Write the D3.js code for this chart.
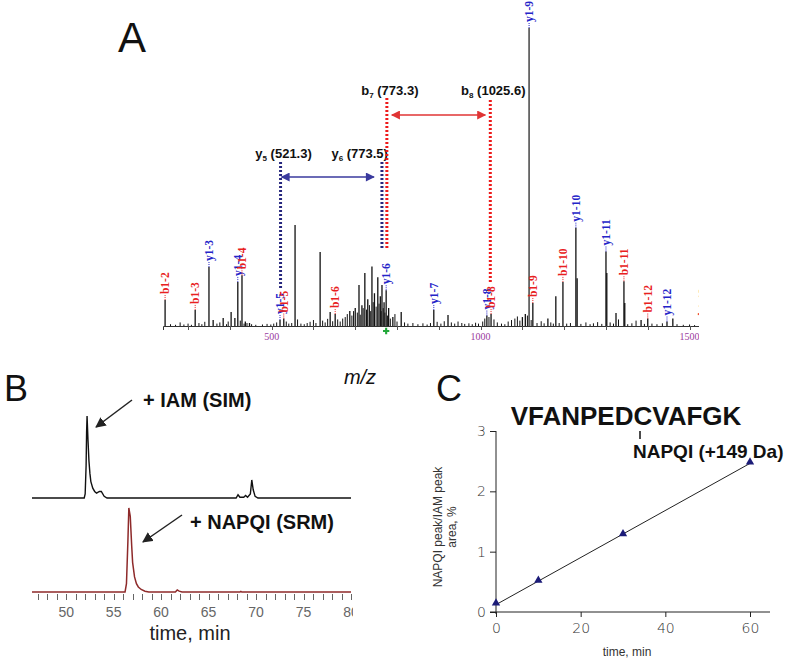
<!DOCTYPE html>
<html lang="en">
  <head>
    <meta charset="UTF-8" />
    <title>Peptide adduct figure</title>
    <script src="https://cdn.jsdelivr.net/npm/d3@7"></script>
    <style>
      body { margin: 0; background: #ffffff; }
      svg { display: block; font-family: "Liberation Sans", Arial, sans-serif; }
    </style>
  </head>
  <body>
    <div id="figure"></div>
    <script>
      // ---------- Panel A: MS/MS spectrum ----------
      const peakMz = [245, 317, 350, 360, 384, 403, 412, 419, 429, 437, 447, 520, 529, 556, 616, 640, 652,
        687, 700, 709, 716, 723, 730, 740, 746, 754, 760, 764, 769, 774, 780, 790, 810, 888, 922,
        1015, 1025, 1100, 1107, 1116, 1125, 1161, 1180, 1197, 1228, 1231, 1300, 1302, 1324, 1343, 1345,
        1384, 1400, 1446, 1460];
      const peakInt = [8.7, 5.4, 19.8, 2, 2.7, 4.7, 2.7, 14.8, 17, 1.5, 1, 2, 2.5, 33.9, 24.8, 4.7, 4,
        5, 6, 13.8, 7, 17.8, 9, 20, 11, 16.4, 10, 13.8, 8, 12, 6, 3, 4.7, 5.4, 3.7,
        3.5, 4, 3, 4, 100, 7.7, 2.5, 10, 14.8, 33, 16, 25, 17.8, 4.4, 15, 7.7,
        2, 2.5, 1.5, 2.5];
      const noiseMz = [258, 270, 281, 290, 300, 308, 326, 333, 340, 369, 376, 392, 396, 425, 434, 441, 452, 462,
        478, 489, 498, 505, 512, 535, 541, 548, 562, 570, 578, 585, 592, 600, 606, 622, 628, 634, 646, 658,
        664, 670, 676, 681, 692, 696, 705, 712, 719, 727, 734, 737, 743, 750, 757, 762, 767, 771, 777, 784,
        795, 800, 818, 826, 838, 850, 862, 872, 880, 896, 905, 913, 930, 938, 946, 955, 962, 972, 980, 988,
        995, 1005, 1010, 1020, 1032, 1040, 1050, 1058, 1066, 1074, 1082, 1088, 1094, 1112, 1121, 1135, 1145,
        1152, 1168, 1174, 1188, 1206, 1215, 1240, 1252, 1262, 1270, 1280, 1290, 1310, 1318, 1330, 1352, 1362,
        1372, 1392, 1410, 1422, 1435, 1470, 1485, 1500, 1512];
      const noiseInt = [0.6, 0.4, 1.2, 0.5, 0.8, 0.4, 1.0, 0.6, 1.4, 0.8, 1.2, 0.6, 1.5, 1.8, 0.8, 1.0, 0.6, 0.4,
        0.5, 0.7, 0.5, 0.8, 1.2, 1.5, 0.8, 1.0, 2.2, 0.8, 0.6, 1.0, 1.4, 2.0, 1.0, 1.8, 1.2, 2.4, 1.6, 2.2,
        1.5, 2.5, 3.0, 4.0, 3.5, 5.0, 4.5, 3.8, 6, 5.5, 7, 5, 8, 6.5, 7.5, 5, 6, 4.5, 3.5, 2.5,
        4, 1.5, 1.2, 0.8, 1.0, 0.6, 0.9, 0.5, 1.0, 1.4, 0.8, 1.6, 1.2, 0.8, 1.5, 1.0, 0.7, 0.9, 0.6, 1.1,
        0.8, 1.5, 2.5, 3.0, 2.2, 1.2, 0.8, 0.6, 1.5, 2.0, 2.5, 3.2, 1.8, 3.5, 2.0, 1.0, 1.6,
        0.9, 1.2, 0.8, 1.0, 0.8, 1.0, 0.7, 1.2, 0.6, 0.9, 1.3, 0.7, 1.2, 0.8, 2.2, 0.6, 0.9,
        1.8, 0.7, 0.8, 0.6, 0.9, 0.6, 0.4, 0.5, 0.3];
      const ionNames = ["b1-2", "b1-3", "y1-3", "y1-4", "b1-4", "y1-5", "b1-5", "b1-6", "y1-6", "y1-7",
        "y1-8", "b1-8", "y1-9", "b1-9", "b1-10", "y1-10", "y1-11", "b1-11", "b1-12", "y1-12", "b1-13"];
      const ionMz = [245, 317, 350, 419, 429, 520, 529, 652, 774, 888, 1015, 1025, 1116, 1125, 1197, 1228,
        1300, 1343, 1400, 1446, 1532];
      const fragNames = ["y5", "y6", "b7", "b8"];
      const fragMz = [521.3, 773.5, 773.3, 1025.6];
      const mzTicks = [500, 1000, 1500];
      const precursorMz = 774;

      // ---------- Panel B: extracted ion chromatograms ----------
      const iamTime = [46.4, 51.9, 52.0, 52.1, 52.15, 52.2, 52.3, 52.4, 52.5, 52.6, 52.8, 53.0, 53.2, 53.5,
        53.7, 54.0, 54.3, 67.9, 68.1, 68.3, 68.7, 68.9, 69.1, 69.4, 69.55, 69.7, 69.9, 70.2, 80];
      const iamInt = [0, 0, 5, 40, 80, 100, 70, 45, 30, 20, 12, 8, 6, 8, 8, 2, 0, 0, 4, 1, 1, 3, 1, 5, 22, 10, 2, 0, 0];
      const napqiTime = [46.4, 56.2, 56.35, 56.5, 56.6, 56.75, 56.9, 57.0, 57.2, 57.4, 57.6, 57.9, 58.3, 58.7,
        61.5, 61.7, 61.9, 62.2, 68.3, 68.4, 68.5, 80];
      const napqiInt = [0, 0, 10, 60, 100, 90, 55, 35, 18, 10, 6, 3, 1, 0, 0, 2.5, 1, 0, 0, 0.8, 0, 0];
      const timeLabels = [50, 55, 60, 65, 70, 75, 80];

      // ---------- Panel C: time course ----------
      const courseTime = [0, 10, 30, 60];
      const courseRatio = [0.13, 0.51, 1.28, 2.47];
      const courseXTicks = [0, 20, 40, 60];
      const courseYTicks = [0, 1, 2, 3];

      const svg = d3.select("#figure").append("svg").attr("width", 800).attr("height", 665);
      svg.append("rect").attr("width", 800).attr("height", 665).attr("fill", "#fff");
      const defs = svg.append("defs");

      // ================= Panel A =================
      const blue = "#2424c8", red = "#e82020";
      const xA = d3.scaleLinear().domain([240, 1525]).range([163, 700]);
      const yA = d3.scaleLinear().domain([0, 100]).range([326, 28]);

      defs.append("clipPath").attr("id", "clipA")
        .append("rect").attr("x", 150).attr("y", 0).attr("width", 549).attr("height", 360);
      const gA = svg.append("g").attr("clip-path", "url(#clipA)");

      svg.append("text").attr("x", 118).attr("y", 52).attr("font-size", 42).attr("fill", "#111").text("A");

      // baseline + ticks
      const axA = gA.append("g").attr("transform", "translate(0,326)")
        .call(d3.axisBottom(xA).tickValues(d3.range(300, 1501, 100)).tickSize(4).tickFormat(""));
      axA.select(".domain").attr("stroke", "#333").attr("stroke-width", 1);
      axA.selectAll(".tick line").attr("stroke", "#555").attr("shape-rendering", "crispEdges");
      gA.selectAll("text.mzlab").data(mzTicks).join("text").attr("class", "mzlab")
        .attr("x", (d) => xA(d)).attr("y", 340).attr("text-anchor", "middle")
        .attr("font-family", "Liberation Serif, serif").attr("font-size", 10).attr("fill", "#9a3aa0").text((d) => d);

      // noise + peaks
      gA.selectAll("line.noise").data(noiseMz).join("line").attr("class", "noise")
        .attr("x1", (d) => xA(d)).attr("x2", (d) => xA(d)).attr("y1", yA(0))
        .attr("y2", (d, i) => yA(noiseInt[i])).attr("stroke", "#111").attr("stroke-width", 1);
      gA.selectAll("line.peak").data(peakMz).join("line").attr("class", "peak")
        .attr("x1", (d) => xA(d)).attr("x2", (d) => xA(d)).attr("y1", yA(0))
        .attr("y2", (d, i) => yA(peakInt[i])).attr("stroke", (d, i) => (peakInt[i] > 90 ? "#444" : "#111"))
        .attr("stroke-width", (d, i) => (peakInt[i] > 90 ? 1.5 : 1.3));

      // precursor marker
      gA.append("path").attr("d", d3.symbol(d3.symbolCross, 22)())
        .attr("transform", `translate(${xA(precursorMz)},331)`).attr("fill", "#22a83a");

      // ion labels
      const ionInt = ionMz.map((m) => {
        const i = d3.minIndex(peakMz, (p) => Math.abs(p - m));
        return Math.abs(peakMz[i] - m) < 4 ? peakInt[i] : 1.5;
      });
      ionNames.forEach((name, i) => {
        const col = name[0] === "y" ? blue : red;
        const px = xA(ionMz[i]);
        const top = yA(ionInt[i]);
        const bot = top - 6;
        gA.append("line").attr("x1", px).attr("x2", px).attr("y1", top).attr("y2", bot)
          .attr("stroke", col).attr("stroke-width", 1).attr("stroke-dasharray", "1,1");
        gA.append("text").attr("transform", `translate(${px + 4},${bot}) rotate(-90)`)
          .attr("font-family", "Liberation Serif, serif").attr("font-weight", "bold")
          .attr("font-size", 11.5).attr("fill", col).text(name);
      });

      // fragment annotation lines
      const fragTop = { y5: 162, y6: 162, b7: 98, b8: 100 };
      const fragBot = { y5: 288, y6: 248, b7: 248, b8: 282 };
      const fragShift = { y5: 0, y6: -4, b7: 1, b8: -1 };
      fragNames.forEach((name, i) => {
        const col = name[0] === "y" ? "#27277e" : "#ee1a1a";
        const fx = xA(fragMz[i]) + fragShift[name];
        svg.append("line").attr("x1", fx).attr("x2", fx).attr("y1", fragTop[name]).attr("y2", fragBot[name])
          .attr("stroke", col).attr("stroke-width", 3).attr("stroke-dasharray", "2,2");
        const lab = svg.append("text").attr("font-weight", "bold").attr("font-size", 13).attr("fill", "#111")
          .attr("y", name[0] === "y" ? 158 : 95);
        if (name === "y6") lab.attr("x", fx + 6).attr("text-anchor", "end");
        else lab.attr("x", fx + 3).attr("text-anchor", "middle");
        lab.append("tspan").text(name[0]);
        lab.append("tspan").attr("font-size", 8).attr("dy", 3).text(name.slice(1));
        lab.append("tspan").attr("dy", -3).text(` (${fragMz[i].toFixed(1)})`);
      });

      // double arrows
      [["arrBlue", "#3a3a9e"], ["arrRed", "#e03434"]].forEach(([id, c]) => {
        defs.append("marker").attr("id", id).attr("viewBox", "0 0 10 10").attr("refX", 9).attr("refY", 5)
          .attr("markerWidth", 7).attr("markerHeight", 6).attr("orient", "auto-start-reverse")
          .append("path").attr("d", "M0,0L10,5L0,10z").attr("fill", c);
      });
      svg.append("line").attr("x1", xA(fragMz[0]) + 1).attr("x2", xA(fragMz[1]) - 12).attr("y1", 177).attr("y2", 177)
        .attr("stroke", "#3a3a9e").attr("stroke-width", 1.5)
        .attr("marker-start", "url(#arrBlue)").attr("marker-end", "url(#arrBlue)");
      svg.append("line").attr("x1", xA(fragMz[2]) + 6).attr("x2", xA(fragMz[3]) - 6).attr("y1", 115).attr("y2", 115)
        .attr("stroke", "#e03434").attr("stroke-width", 1.5)
        .attr("marker-start", "url(#arrRed)").attr("marker-end", "url(#arrRed)");

      svg.append("text").attr("x", 360).attr("y", 384).attr("text-anchor", "middle")
        .attr("font-size", 20).attr("font-style", "italic").attr("fill", "#111").text("m/z");

      // ================= Panel B =================
      svg.append("text").attr("x", 4).attr("y", 401).attr("font-size", 36).attr("fill", "#111").text("B");
      defs.append("clipPath").attr("id", "clipB").append("rect").attr("x", 0).attr("y", 380).attr("width", 353).attr("height", 285);
      const gB = svg.append("g").attr("clip-path", "url(#clipB)");
      const xB = d3.scaleLinear().domain([46.4, 80]).range([32, 351]);
      const yTop = d3.scaleLinear().domain([0, 100]).range([498, 416]);
      const yBot = d3.scaleLinear().domain([0, 100]).range([592, 508]);

      gB.append("path").datum(iamTime).attr("fill", "none").attr("stroke", "#111").attr("stroke-width", 1.4)
        .attr("d", d3.line().x((d) => xB(d)).y((d, i) => yTop(iamInt[i])));
      gB.append("path").datum(napqiTime).attr("fill", "none").attr("stroke", "#8e2a2a").attr("stroke-width", 1.5)
        .attr("d", d3.line().x((d) => xB(d)).y((d, i) => yBot(napqiInt[i])));

      // time ticks drawn as plain lines, one per minute
      gB.selectAll("line.tick").data(d3.range(47, 81, 1)).join("line").attr("class", "tick")
        .attr("x1", (d) => Math.round(xB(d)) + 0.5).attr("x2", (d) => Math.round(xB(d)) + 0.5)
        .attr("y1", 594).attr("y2", 600).attr("stroke", "#666").attr("stroke-width", 1);
      gB.selectAll("text.tlab").data(timeLabels).join("text").attr("class", "tlab")
        .attr("x", (d) => xB(d)).attr("y", 617).attr("text-anchor", "middle")
        .attr("font-size", 14).attr("fill", "#666").text((d) => d);

      svg.append("text").attr("x", 143).attr("y", 407).attr("font-size", 20).attr("font-weight", "bold")
        .attr("fill", "#111").text("+ IAM (SIM)");
      svg.append("text").attr("x", 190).attr("y", 529).attr("font-size", 20).attr("font-weight", "bold")
        .attr("fill", "#111").text("+ NAPQI (SRM)");
      defs.append("marker").attr("id", "arrBlack").attr("viewBox", "0 0 10 10").attr("refX", 9).attr("refY", 5)
        .attr("markerWidth", 7).attr("markerHeight", 7).attr("orient", "auto")
        .append("path").attr("d", "M0,0L10,5L0,10z").attr("fill", "#222");
      svg.append("line").attr("x1", 132).attr("y1", 400).attr("x2", 96).attr("y2", 427)
        .attr("stroke", "#222").attr("stroke-width", 1.5).attr("marker-end", "url(#arrBlack)");
      svg.append("line").attr("x1", 182).attr("y1", 515).attr("x2", 143).attr("y2", 542)
        .attr("stroke", "#222").attr("stroke-width", 1.5).attr("marker-end", "url(#arrBlack)");
      svg.append("text").attr("x", 190).attr("y", 640).attr("text-anchor", "middle")
        .attr("font-size", 20).attr("fill", "#222").text("time, min");

      // ================= Panel C =================
      svg.append("text").attr("x", 436).attr("y", 401).attr("font-size", 36).attr("fill", "#111").text("C");
      const xC = d3.scaleLinear().domain([0, 60]).range([496, 750]);
      const yC = d3.scaleLinear().domain([0, 3]).range([612, 431]);

      svg.append("line").attr("x1", 490).attr("x2", 770).attr("y1", yC(0)).attr("y2", yC(0)).attr("stroke", "#222");
      svg.append("line").attr("x1", xC(0)).attr("x2", xC(0)).attr("y1", yC(3)).attr("y2", yC(0) + 2).attr("stroke", "#222");
      const axCx = svg.append("g").attr("transform", `translate(0,${yC(0)})`)
        .call(d3.axisBottom(xC).tickValues(courseXTicks).tickSize(5).tickPadding(6).tickFormat(d3.format("d")));
      axCx.select(".domain").remove();
      const axCy = svg.append("g").attr("transform", `translate(${xC(0)},0)`)
        .call(d3.axisLeft(yC).tickValues(courseYTicks).tickSize(6).tickPadding(4).tickFormat(d3.format("d")));
      axCy.select(".domain").remove();
      [axCx, axCy].forEach((ax) => {
        ax.selectAll(".tick line").attr("stroke", "#222");
        ax.selectAll(".tick text").attr("font-size", 14).attr("fill", "#333")
          .attr("font-family", "DejaVu Sans, sans-serif").attr("font-weight", 300);
      });

      // least-squares line through the measured points
      const fit = (() => {
        const mx = d3.mean(courseTime), my = d3.mean(courseRatio);
        const sxy = d3.sum(courseTime, (t, i) => (t - mx) * (courseRatio[i] - my));
        const sxx = d3.sum(courseTime, (t) => (t - mx) ** 2);
        const b = sxy / sxx;
        return { a: my - b * mx, b };
      })();
      svg.append("line").attr("x1", xC(0)).attr("y1", yC(fit.a)).attr("x2", xC(60)).attr("y2", yC(fit.a + fit.b * 60))
        .attr("stroke", "#222").attr("stroke-width", 1);
      svg.selectAll("path.tri").data(courseTime).join("path").attr("class", "tri")
        .attr("d", d3.symbol(d3.symbolTriangle, 30)())
        .attr("transform", (d, i) => `translate(${xC(d)},${yC(courseRatio[i]) - 1})`).attr("fill", "#1c1c78");

      svg.append("text").attr("x", 627).attr("y", 656).attr("text-anchor", "middle")
        .attr("font-size", 12).attr("fill", "#333").text("time, min");
      const yl = svg.append("text").attr("transform", "translate(442,527) rotate(-90)").attr("text-anchor", "middle")
        .attr("font-size", 12).attr("fill", "#333");
      yl.append("tspan").attr("x", 0).attr("dy", 0).text("NAPQI peak/IAM peak");
      yl.append("tspan").attr("x", 0).attr("dy", 14).text("area, %");

      svg.append("text").attr("x", 626).attr("y", 425).attr("text-anchor", "middle")
        .attr("font-size", 26).attr("font-weight", "bold").attr("fill", "#111").text("VFANPEDCVAFGK");
      svg.append("line").attr("x1", 640).attr("x2", 640).attr("y1", 431).attr("y2", 439).attr("stroke", "#111").attr("stroke-width", 1.5);
      svg.append("text").attr("x", 633).attr("y", 458).attr("font-size", 19).attr("font-weight", "bold")
        .attr("fill", "#111").text("NAPQI (+149 Da)");
    </script>
  </body>
</html>
